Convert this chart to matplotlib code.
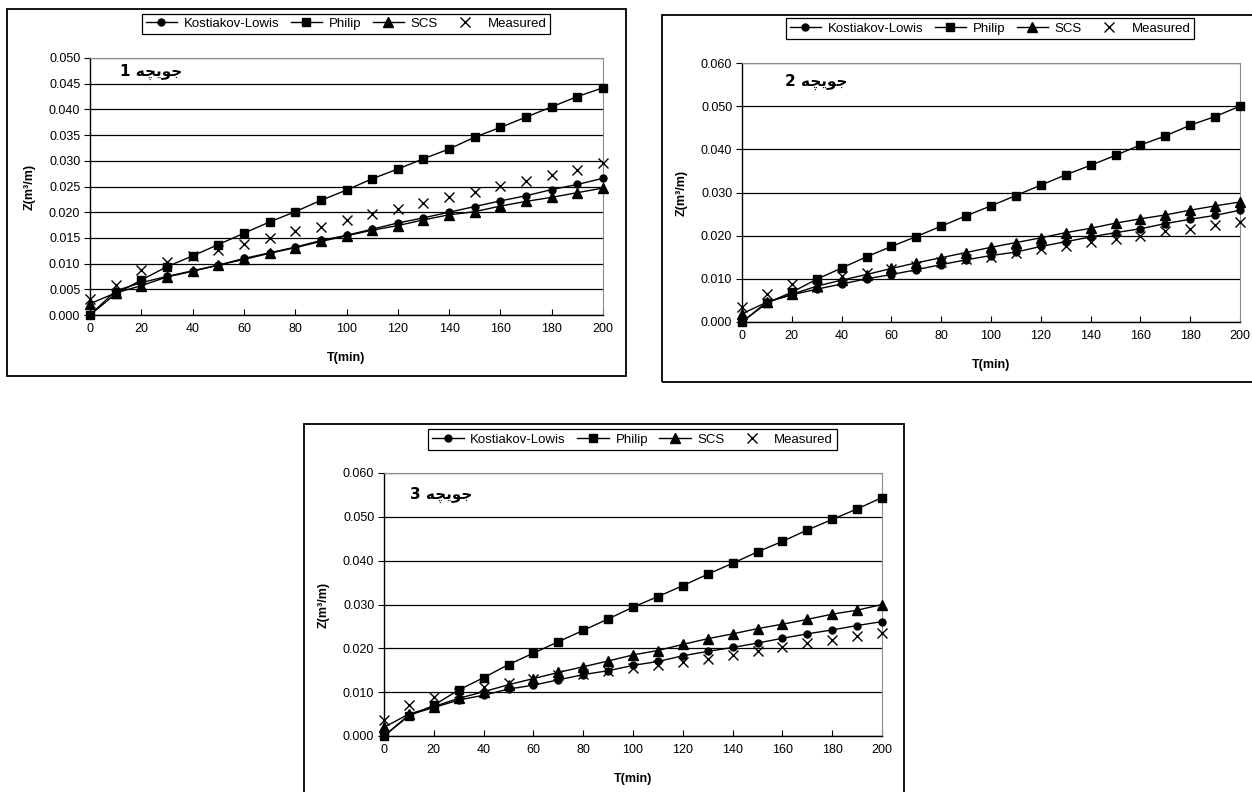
import matplotlib
matplotlib.use("Agg")
import matplotlib.pyplot as plt
from matplotlib.patches import Rectangle
from matplotlib.ticker import MultipleLocator, FormatStrFormatter

plt.rcParams['font.family'] = ['Liberation Sans', 'DejaVu Sans']
plt.rcParams['font.size'] = 9

W, H = 1252, 792

T = [0, 10, 20, 30, 40, 50, 60, 70, 80, 90, 100,
     110, 120, 130, 140, 150, 160, 170, 180, 190, 200]

SERIES = ["Kostiakov-Lowis", "Philip", "SCS", "Measured"]

# furrow 1
kl_1 = [0.0000, 0.0047, 0.0063, 0.0075, 0.0086, 0.0097, 0.0110, 0.0121, 0.0132, 0.0145, 0.0155,
        0.0167, 0.0179, 0.0189, 0.0200, 0.0211, 0.0222, 0.0232, 0.0244, 0.0254, 0.0266]
philip_1 = [0.0000, 0.0041, 0.0068, 0.0094, 0.0115, 0.0137, 0.0159, 0.0181, 0.0201, 0.0223, 0.0243,
            0.0265, 0.0284, 0.0304, 0.0323, 0.0346, 0.0365, 0.0385, 0.0405, 0.0425, 0.0442]
scs_1 = [0.0022, 0.0043, 0.0057, 0.0074, 0.0085, 0.0097, 0.0108, 0.0120, 0.0131, 0.0143, 0.0154,
         0.0165, 0.0174, 0.0185, 0.0195, 0.0201, 0.0212, 0.0221, 0.0229, 0.0238, 0.0247]
meas_1 = [0.0031, 0.0059, 0.0087, 0.0104, 0.0115, 0.0127, 0.0138, 0.0150, 0.0163, 0.0172, 0.0185,
          0.0196, 0.0206, 0.0218, 0.0229, 0.0239, 0.0251, 0.0261, 0.0273, 0.0283, 0.0295]

# furrow 2
kl_2 = [0.0000, 0.0046, 0.0063, 0.0076, 0.0088, 0.0100, 0.0110, 0.0121, 0.0133, 0.0144, 0.0154,
        0.0162, 0.0175, 0.0186, 0.0197, 0.0207, 0.0216, 0.0228, 0.0238, 0.0247, 0.0259]
philip_2 = [0.0000, 0.0044, 0.0069, 0.0099, 0.0125, 0.0151, 0.0175, 0.0198, 0.0222, 0.0246, 0.0269,
            0.0293, 0.0317, 0.0341, 0.0363, 0.0386, 0.0410, 0.0431, 0.0456, 0.0476, 0.0500]
scs_2 = [0.0019, 0.0046, 0.0064, 0.0083, 0.0097, 0.0110, 0.0124, 0.0137, 0.0149, 0.0161, 0.0173,
         0.0184, 0.0195, 0.0207, 0.0217, 0.0229, 0.0239, 0.0248, 0.0259, 0.0269, 0.0278]
meas_2 = [0.0035, 0.0066, 0.0087, 0.0082, 0.0106, 0.0114, 0.0123, 0.0130, 0.0139, 0.0146, 0.0151,
          0.0161, 0.0168, 0.0175, 0.0185, 0.0192, 0.0200, 0.0210, 0.0216, 0.0225, 0.0232]

# furrow 3
kl_3 = [0.0000, 0.0048, 0.0065, 0.0082, 0.0093, 0.0107, 0.0116, 0.0128, 0.0140, 0.0149, 0.0161,
        0.0170, 0.0183, 0.0193, 0.0202, 0.0212, 0.0223, 0.0233, 0.0242, 0.0252, 0.0261]
philip_3 = [0.0000, 0.0046, 0.0070, 0.0105, 0.0133, 0.0163, 0.0189, 0.0215, 0.0241, 0.0267, 0.0294,
            0.0318, 0.0343, 0.0369, 0.0394, 0.0420, 0.0444, 0.0470, 0.0494, 0.0518, 0.0544]
scs_3 = [0.0020, 0.0050, 0.0067, 0.0086, 0.0101, 0.0117, 0.0131, 0.0145, 0.0158, 0.0171, 0.0185,
         0.0195, 0.0209, 0.0222, 0.0233, 0.0245, 0.0255, 0.0266, 0.0278, 0.0287, 0.0300]
meas_3 = [0.0037, 0.0070, 0.0089, 0.0099, 0.0112, 0.0122, 0.0130, 0.0140, 0.0141, 0.0149, 0.0155,
          0.0161, 0.0168, 0.0176, 0.0185, 0.0193, 0.0202, 0.0212, 0.0219, 0.0228, 0.0235]

# "جویچه" in visual order (presentation forms, since matplotlib does no shaping)
FURROW = "\ufeea\ufb7d\ufbfe\ufeee\ufe9f"


def fx(px):
    return px / W


def fy(py):
    return 1 - py / H


def draw_panel(fig, box, ax_px, leg_px, lab_px, num, kl, philip, scs, meas, ymax, ystep):
    bx0, by0, bx1, by1 = box
    fig.patches.append(Rectangle((fx(bx0), fy(by1)), fx(bx1 - bx0), (by1 - by0) / H,
                                 transform=fig.transFigure, fill=False,
                                 edgecolor='black', lw=1.3, zorder=0))
    l, t, r, b = ax_px
    ax = fig.add_axes([fx(l), fy(b), fx(r - l), (b - t) / H])

    ax.plot(T, kl, color='black', lw=1, marker='o', ms=5, label=SERIES[0], clip_on=False, zorder=3)
    ax.plot(T, philip, color='black', lw=1, marker='s', ms=6, label=SERIES[1], clip_on=False, zorder=3)
    ax.plot(T, scs, color='black', lw=1, marker='^', ms=6.5, label=SERIES[2], clip_on=False, zorder=3)
    ax.plot(T, meas, color='black', lw=0, marker='x', ms=6.5, mew=1, label=SERIES[3], clip_on=False, zorder=3)

    ax.set_xlim(0, 200)
    ax.set_ylim(0, ymax)
    ax.xaxis.set_major_locator(MultipleLocator(20))
    ax.yaxis.set_major_locator(MultipleLocator(ystep))
    ax.yaxis.set_major_formatter(FormatStrFormatter('%.3f'))
    ax.tick_params(axis='x', direction='in', length=4, width=0.8, pad=6, labelsize=9)
    ax.tick_params(axis='y', direction='out', length=4, width=0.8, pad=3, labelsize=9)
    ax.yaxis.grid(True, color='black', lw=0.9)
    ax.set_axisbelow(True)
    for side in ['top', 'right']:
        ax.spines[side].set_color('#8c8c8c')
    for side in ['left', 'bottom']:
        ax.spines[side].set_color('black')
        ax.spines[side].set_linewidth(1)

    ax.set_xlabel('T(min)', fontweight='bold', fontsize=9)
    ax.xaxis.set_label_coords(0.5, -37 / (b - t), transform=ax.transAxes)
    ax.set_ylabel('Z(m³/m)', fontweight='bold', fontsize=9)
    ax.yaxis.set_label_coords(-54 / (r - l), 0.5, transform=ax.transAxes)

    lx0, ly0, lx1, ly1 = leg_px
    leg = ax.legend(loc='center', bbox_to_anchor=(fx((lx0 + lx1) / 2), fy((ly0 + ly1) / 2)),
                    bbox_transform=fig.transFigure, ncol=4, frameon=True, fancybox=False,
                    edgecolor='black', framealpha=1, handlelength=2.4, handletextpad=0.5,
                    columnspacing=0.85, borderpad=0.3, fontsize=9.5)
    leg.get_frame().set_linewidth(0.9)

    ax.text(fx(lab_px[0]), fy(lab_px[1]), num + " " + FURROW, transform=fig.transFigure,
            ha='left', va='center', fontsize=11, fontweight='bold',
            family=['DejaVu Sans'])
    return ax


fig = plt.figure(figsize=(W / 100, H / 100), dpi=100)

draw_panel(fig, (7, 9, 626, 376), (90, 58, 603, 315), (143, 13, 549, 35), (120, 72), "1",
           kl_1, philip_1, scs_1, meas_1, 0.050, 0.005)
draw_panel(fig, (662, 15, 1262, 382), (742, 63, 1240, 322), (793, 17, 1187, 40), (785, 82), "2",
           kl_2, philip_2, scs_2, meas_2, 0.060, 0.010)
draw_panel(fig, (304, 424, 904, 802), (384, 473, 882, 736), (435, 428, 830, 451), (410, 495), "3",
           kl_3, philip_3, scs_3, meas_3, 0.060, 0.010)

fig.savefig("out.png", dpi=100)
